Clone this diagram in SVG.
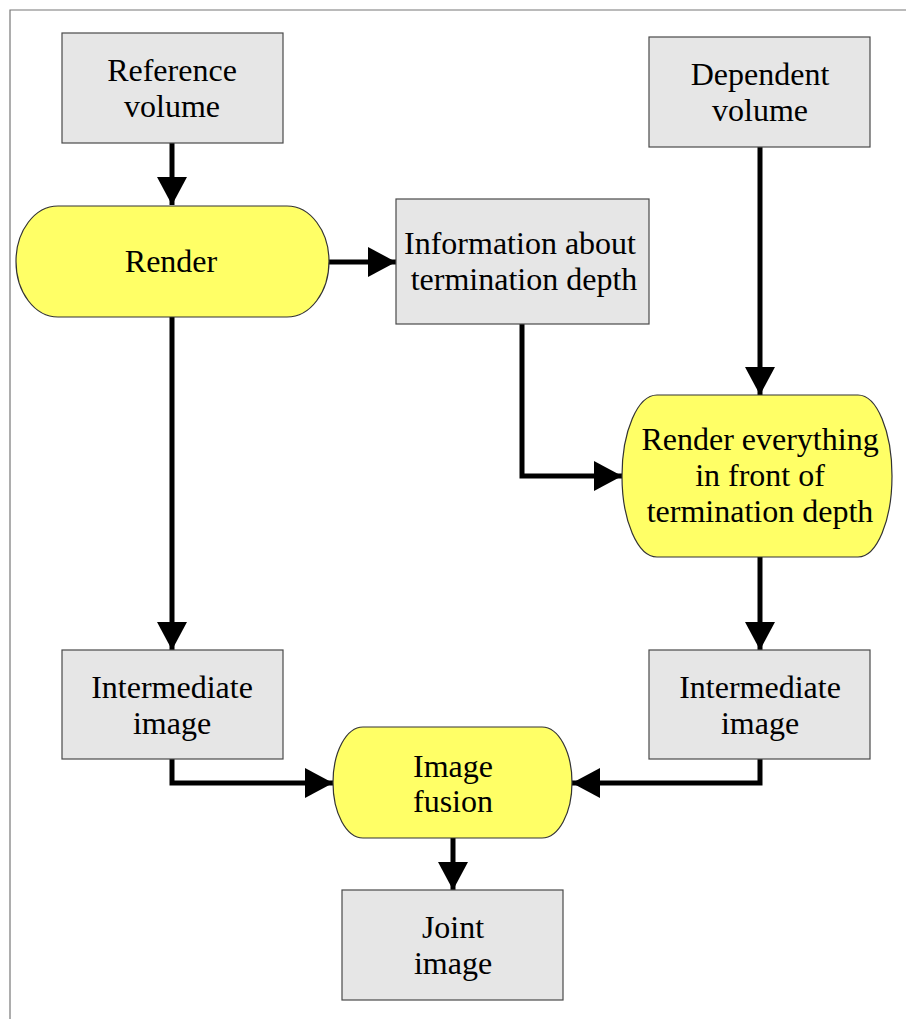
<svg xmlns="http://www.w3.org/2000/svg" width="910" height="1019" viewBox="0 0 910 1019">
  <defs>
    <style>
      .box { fill: #e6e6e6; stroke: #4a4a4a; stroke-width: 1.2; }
      .proc { fill: #ffff66; stroke: #333333; stroke-width: 1.2; }
      text { font-family: 'Liberation Serif', 'Times New Roman', Tinos, serif; font-size: 32px; fill: #000; text-anchor: middle; }
      .wire { fill: none; stroke: #000; stroke-width: 5; stroke-linejoin: miter; }
      .frame { fill: none; stroke: #777; stroke-width: 1.2; }
    </style>
    <marker id="head" markerUnits="userSpaceOnUse" markerWidth="30" markerHeight="32" refX="28" refY="15" orient="auto">
      <path d="M0,0 L28,15 L0,30 Z" fill="#000"/>
    </marker>
  </defs>

  <rect width="910" height="1019" fill="#fff"/>
  <path class="frame" d="M10,1019 V10 H906"/>

  <g id="connectors">
    <path class="wire" d="M172,143 V205" marker-end="url(#head)"/>
    <path class="wire" d="M328,262 H396" marker-end="url(#head)"/>
    <path class="wire" d="M172,317 V650" marker-end="url(#head)"/>
    <path class="wire" d="M760,147 V395" marker-end="url(#head)"/>
    <path class="wire" d="M522,324 V476 H622" marker-end="url(#head)"/>
    <path class="wire" d="M760,557 V650" marker-end="url(#head)"/>
    <path class="wire" d="M172,759 V783 H333" marker-end="url(#head)"/>
    <path class="wire" d="M760,759 V783 H572" marker-end="url(#head)"/>
    <path class="wire" d="M453,838 V890" marker-end="url(#head)"/>
  </g>

  <g id="reference-volume" font-family="Liberation Serif, serif">
    <rect class="box" x="62" y="33" width="221" height="110"/>
    <text x="172" y="81">Reference</text>
    <text x="172" y="117">volume</text>
  </g>

  <g id="dependent-volume" font-family="Liberation Serif, serif">
    <rect class="box" x="649" y="37" width="221" height="110"/>
    <text x="760" y="85">Dependent</text>
    <text x="760" y="121">volume</text>
  </g>

  <g id="render">
    <path class="proc" d="M58,206 H287 A42,55.5 0 0 1 287,317 H58 A42,55.5 0 0 1 58,206 Z"/>
    <text x="171" y="272">Render</text>
  </g>

  <g id="termination-info">
    <rect class="box" x="396" y="199" width="253" height="125"/>
    <text x="520" y="254">Information about</text>
    <text x="524" y="290">termination depth</text>
  </g>

  <g id="render-front">
    <path class="proc" d="M657,395 H858 A34,81 0 0 1 858,557 H657 A35,81 0 0 1 657,395 Z"/>
    <text x="760" y="450">Render everything</text>
    <text x="760" y="486">in front of</text>
    <text x="760" y="522">termination depth</text>
  </g>

  <g id="intermediate-left">
    <rect class="box" x="62" y="650" width="221" height="109"/>
    <text x="172" y="698">Intermediate</text>
    <text x="172" y="734">image</text>
  </g>

  <g id="intermediate-right">
    <rect class="box" x="649" y="650" width="221" height="109"/>
    <text x="760" y="698">Intermediate</text>
    <text x="760" y="734">image</text>
  </g>

  <g id="image-fusion">
    <path class="proc" d="M363,727 H542 A30,55.5 0 0 1 542,838 H363 A30,55.5 0 0 1 363,727 Z"/>
    <text x="453" y="777">Image</text>
    <text x="453" y="812">fusion</text>
  </g>

  <g id="joint-image">
    <rect class="box" x="342" y="890" width="221" height="110"/>
    <text x="453" y="938">Joint</text>
    <text x="453" y="974">image</text>
  </g>
</svg>
